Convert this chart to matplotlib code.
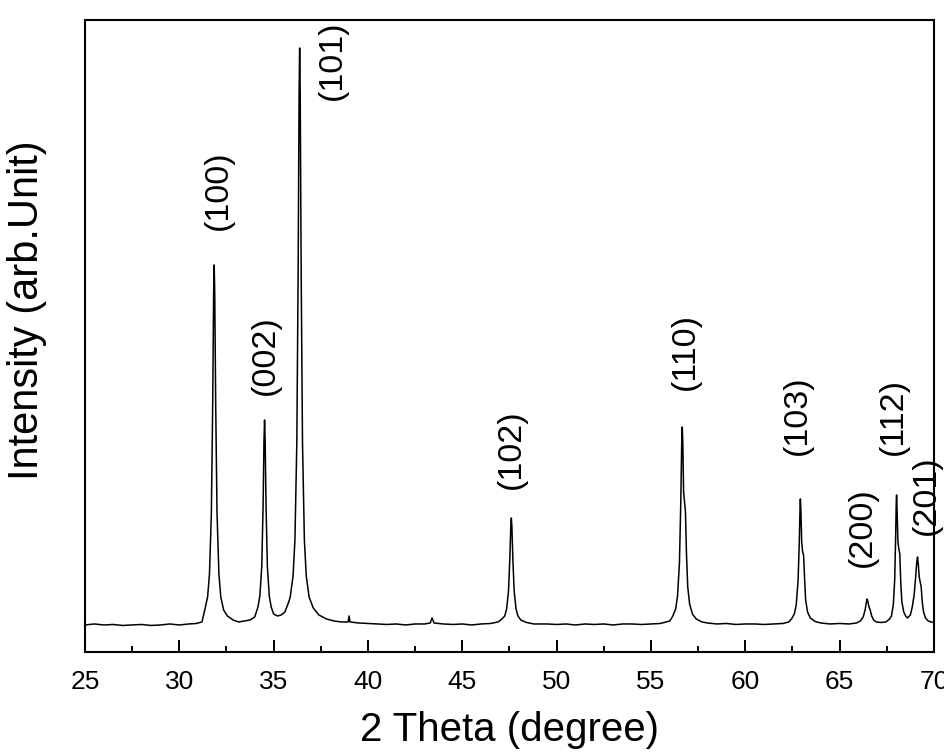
import matplotlib.pyplot as plt

# XRD pattern, values (intensity in arbitrary units)
two_theta = [25.0, 25.5, 26.0, 26.5, 27.0, 27.5, 28.0, 28.5, 29.0, 29.5, 30.0, 30.5, 30.9, 31.2,
             31.35, 31.5, 31.6, 31.7, 31.77, 31.82, 31.85, 31.88, 31.93, 32.0, 32.1, 32.2, 32.35,
             32.55, 32.85, 33.15, 33.45, 33.75, 34.0,
             34.17, 34.27, 34.37, 34.44, 34.49, 34.52, 34.55, 34.6, 34.67, 34.77, 34.87, 35.0,
             35.2, 35.4, 35.6, 35.8,
             35.88, 36.03, 36.13, 36.23, 36.3, 36.35, 36.38, 36.41, 36.46, 36.53, 36.63, 36.73,
             36.88, 37.1, 37.4, 37.8, 38.2, 38.6, 38.95, 39.0, 39.05, 39.5, 40.0, 40.5, 41.0,
             41.5, 42.0, 42.5, 43.0, 43.3, 43.4, 43.5, 44.0, 44.5, 45.0, 45.5, 46.0, 46.5, 46.9,
             47.1, 47.25, 47.35, 47.45, 47.52, 47.57, 47.6, 47.63, 47.68, 47.75, 47.85, 47.95,
             48.1, 48.4, 48.8, 49.5, 50.0, 50.5, 51.0, 51.5, 52.0, 52.5, 53.0, 53.5, 54.0, 54.5,
             55.0, 55.5, 56.0,
             56.16, 56.31, 56.41, 56.51, 56.58, 56.63, 56.66, 56.69, 56.73, 56.78, 56.83, 56.88,
             56.95, 57.05, 57.2, 57.4, 57.7, 58.0, 58.5, 59.0, 59.5, 60.0, 60.5, 61.0, 61.5,
             62.0, 62.3,
             62.45, 62.6, 62.7, 62.8, 62.86, 62.9, 62.92, 62.95, 62.99, 63.04, 63.09, 63.14,
             63.2, 63.3, 63.45, 63.7, 64.0, 64.5, 65.0, 65.5, 65.9,
             66.1, 66.25, 66.35, 66.42, 66.46, 66.5, 66.56, 66.62, 66.7, 66.8, 66.95, 67.2,
             67.45, 67.65,
             67.75, 67.85, 67.92, 67.97, 68.0, 68.02, 68.05, 68.09, 68.14, 68.19, 68.24, 68.3,
             68.4, 68.5, 68.6, 68.75,
             68.85, 68.95, 69.03, 69.09, 69.13, 69.17, 69.22, 69.27, 69.32, 69.38, 69.45, 69.55,
             69.7, 69.85, 70.0]
intensity = [27, 28, 27, 27.5, 26.5, 27, 27.5, 26.5, 27, 28, 27, 28, 28.5, 30,
             42, 55, 78, 139, 247, 357, 387, 357, 247, 139, 78, 55, 42,
             36, 32, 30, 31, 32, 35,
             45, 56, 85, 144, 212, 232, 212, 144, 85, 56, 45, 38,
             36, 37, 40, 50,
             55, 76, 112, 210, 381, 557, 604, 557, 381, 210, 112, 76,
             55, 44, 37, 33, 31, 30, 30, 36, 30, 29, 28.5, 28, 27.5,
             28, 27, 28, 28, 29, 34, 29, 28, 27.5, 28, 27, 28, 28.5, 30,
             33, 36, 43, 61, 93, 125, 134, 125, 93, 61, 43, 36,
             32, 29.5, 28, 28, 27.5, 28, 27, 28, 27.5, 28, 27, 28, 28, 27.5,
             28, 28.5, 31,
             36, 43, 56, 89, 148, 208, 225, 208, 160, 150, 140, 100,
             65, 48, 38, 33, 30, 29, 28, 28.5, 27.5, 28, 28, 27.5, 28,
             28.5, 30,
             33, 38, 47, 72, 108, 142, 153, 140, 110, 100, 97, 75,
             52, 40, 34, 30.5, 29, 28, 28.5, 28, 29,
             31, 35, 42, 50, 53, 50, 45, 42, 36, 32, 30, 29.5,
             30, 33,
             36, 48, 72, 115, 148, 157, 140, 110, 103, 98, 70, 50,
             40, 36, 34, 37,
             45, 57, 75, 90, 95, 88, 75, 70, 66, 50, 40, 34,
             31, 30, 29.5]

# peak labels: text, 2theta position, intensity of label start
hkl = ['(100)', '(002)', '(101)', '(102)', '(110)', '(103)', '(200)', '(112)', '(201)']
hkl_x = [32.09, 34.58, 38.12, 47.6, 56.85, 62.78, 66.22, 67.86, 69.6]
hkl_y = [422, 257, 552, 163, 262, 197, 85, 197, 117]

plt.rcParams['font.family'] = ['Liberation Sans', 'DejaVu Sans']

fig = plt.figure(figsize=(9.45, 7.56), dpi=100)
ax = fig.add_axes([0.0899, 0.1376, 0.8984, 0.836])

ax.plot(two_theta, intensity, color='black', linewidth=1.1)

for lab, x, y in zip(hkl, hkl_x, hkl_y):
    ax.text(x, y, lab, rotation=90, ha='center', va='bottom', fontsize=24.5, clip_on=False)

ax.set_xlim(25, 70)
ax.set_ylim(0, 632)
ax.set_xticks(range(25, 71, 5))
ax.set_xticks([27.5 + 5 * i for i in range(9)], minor=True)
ax.set_yticks([])
ax.tick_params(axis='x', which='major', direction='in', length=8.6, width=1.4,
               labelsize=19, pad=13)
ax.tick_params(axis='x', which='minor', direction='in', length=4.3, width=1.4)
for s in ax.spines.values():
    s.set_linewidth(1.5)

ax.set_xlabel('2 Theta (degree)', fontsize=29, labelpad=12)
ax.set_ylabel('Intensity (arb.Unit)', fontsize=30)
ax.yaxis.set_label_coords(-0.045, 0.54)

fig.savefig('out.png', dpi=100)
